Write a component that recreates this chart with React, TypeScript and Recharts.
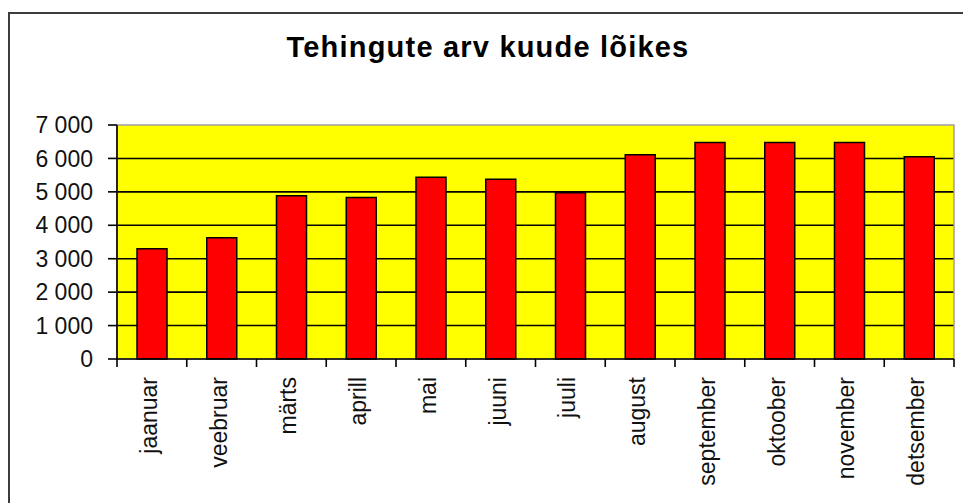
import {
  BarChart,
  Bar,
  XAxis,
  YAxis,
  CartesianGrid,
  ReferenceArea,
} from 'recharts'

const months = [
  'jaanuar',
  'veebruar',
  'märts',
  'aprill',
  'mai',
  'juuni',
  'juuli',
  'august',
  'september',
  'oktoober',
  'november',
  'detsember',
]
const deals = [3300, 3630, 4880, 4830, 5440, 5380, 4970, 6110, 6480, 6480, 6480, 6050]
const yTicks = [0, 1000, 2000, 3000, 4000, 5000, 6000, 7000]
const gridValues = [1000, 2000, 3000, 4000, 5000, 6000]

const data = months.map((month, i) => ({ month, value: deals[i] }))

const font = '"Liberation Sans", Arial, sans-serif'
const TICK = 8
const GAP = 10

const fmt = (v: number) => String(v).replace(/\B(?=(\d{3})+(?!\d))/g, ' ')

// category label plus a tick mark on the category boundary (Excel style)
function MonthTick(props: any) {
  const { x, y, payload, index } = props
  const half = payload.offset || 0
  const axisY = y - TICK - GAP
  return (
    <g>
      <line x1={x - half} x2={x - half} y1={axisY} y2={axisY + TICK} stroke="#000" strokeWidth={1.6} />
      {index === months.length - 1 && (
        <line x1={x + half} x2={x + half} y1={axisY} y2={axisY + TICK} stroke="#000" strokeWidth={1.6} />
      )}
      <text
        x={x}
        y={y}
        dy={5}
        textAnchor="end"
        transform={`rotate(-90, ${x}, ${y})`}
        fill="#111"
        fontSize={23}
        fontFamily={font}
      >
        {payload.value}
      </text>
    </g>
  )
}

export default function App() {
  return (
    <div style={{ position: 'absolute', left: 0, top: 0, width: 963, height: 503, background: '#fff', overflow: 'hidden' }}>
      <div
        style={{
          position: 'absolute',
          left: 8,
          top: 12,
          width: 980,
          height: 520,
          borderLeft: '2px solid #3c3c3c',
          borderTop: '2px solid #3c3c3c',
        }}
      />
      <div
        style={{
          position: 'absolute',
          left: 0,
          top: 31,
          width: 976,
          textAlign: 'center',
          fontFamily: font,
          fontWeight: 'bold',
          fontSize: 29,
          lineHeight: '32px',
          letterSpacing: 1.2,
          color: '#000',
        }}
      >
        Tehingute arv kuude lõikes
      </div>
      <div style={{ position: 'absolute', left: 0, top: 0 }}>
        <BarChart
          width={963}
          height={503}
          data={data}
          margin={{ top: 125, right: 9, bottom: 0, left: 0 }}
          barCategoryGap={0}
        >
          <CartesianGrid
            vertical={false}
            horizontalValues={gridValues}
            fill="#ffff00"
            fillOpacity={1}
            stroke="#000"
            strokeWidth={1.6}
          />
          <ReferenceArea y1={0} y2={7000} fill="none" stroke="#a0a0a0" strokeWidth={1.5} ifOverflow="extendDomain" />
          <XAxis
            dataKey="month"
            interval={0}
            height={144}
            tickSize={TICK}
            tickMargin={GAP}
            tickLine={false}
            axisLine={{ stroke: '#000', strokeWidth: 1.6 }}
            tick={<MonthTick />}
          />
          <YAxis
            width={117}
            domain={[0, 7000]}
            ticks={yTicks}
            interval={0}
            tickFormatter={fmt}
            tickSize={9}
            tickMargin={15}
            axisLine={{ stroke: '#000', strokeWidth: 1.6 }}
            tickLine={{ stroke: '#000', strokeWidth: 1.6 }}
            tick={{ fill: '#111', fontSize: 23, fontFamily: font }}
          />
          <Bar
            dataKey="value"
            fill="#ff0000"
            stroke="#000"
            strokeWidth={1.5}
            barSize={30}
            isAnimationActive={false}
          />
        </BarChart>
      </div>
    </div>
  )
}
